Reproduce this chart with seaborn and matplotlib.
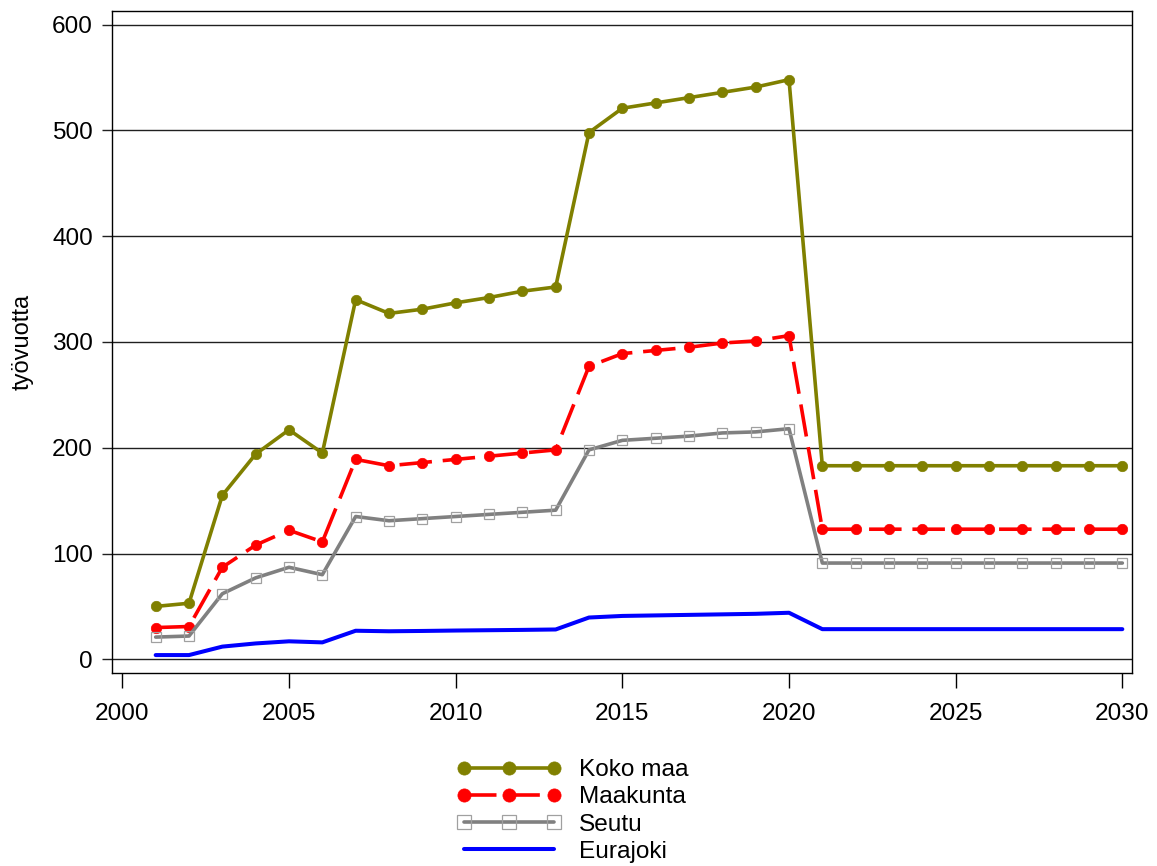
import matplotlib
matplotlib.use("Agg")
import matplotlib.pyplot as plt
import seaborn as sns
import pandas as pd

years = list(range(2001, 2031))

koko_maa = [50, 53, 155, 194, 217, 195, 340, 327, 331, 337, 342, 348, 352,
            498, 521, 526, 531, 536, 541, 548,
            183, 183, 183, 183, 183, 183, 183, 183, 183, 183]
maakunta = [30, 31, 87, 108, 122, 111, 189, 183, 186, 189, 192, 195, 198,
            277, 289, 292, 295, 299, 301, 306,
            123, 123, 123, 123, 123, 123, 123, 123, 123, 123]
seutu = [21, 22, 62, 77, 87, 80, 135, 131, 133, 135, 137, 139, 141,
         198, 207, 209, 211, 214, 215, 218,
         91, 91, 91, 91, 91, 91, 91, 91, 91, 91]
eurajoki = [4, 4, 12, 15, 17, 16, 27, 26.5, 26.8, 27.2, 27.5, 27.8, 28.2,
            39.5, 41, 41.5, 42, 42.5, 43, 44,
            28.5, 28.5, 28.5, 28.5, 28.5, 28.5, 28.5, 28.5, 28.5, 28.5]

labels = ["Koko maa", "Maakunta", "Seutu", "Eurajoki"]
x_ticks = [2000, 2005, 2010, 2015, 2020, 2025, 2030]
y_ticks = [0, 100, 200, 300, 400, 500, 600]
y_label = "työvuotta"

sns.set_style("white")
plt.rcParams["font.family"] = ["Liberation Sans", "DejaVu Sans"]
plt.rcParams["text.color"] = "black"
plt.rcParams["xtick.color"] = "black"
plt.rcParams["ytick.color"] = "black"
plt.rcParams["axes.labelcolor"] = "black"

FS = 17.6

fig = plt.figure(figsize=(11.57, 8.66), dpi=100)
ax = fig.add_axes([112 / 1157, 1 - 673 / 866, (1132 - 112) / 1157, (673 - 10.7) / 866])

df = pd.DataFrame({"year": years, labels[0]: koko_maa, labels[1]: maakunta,
                   labels[2]: seutu, labels[3]: eurajoki})

for y in y_ticks:
    ax.axhline(y, color="#202020", lw=1.0, zorder=0)

sns.lineplot(data=df, x="year", y=labels[0], ax=ax, color="#808000", lw=2.6,
             marker="o", markersize=7.5, markeredgecolor="#808000",
             markerfacecolor="#808000", markeredgewidth=0.5, label=labels[0])
sns.lineplot(data=df, x="year", y=labels[1], ax=ax, color="#ff0000", lw=2.6,
             linestyle=(0, (9.0, 3.0)), marker="o", markersize=7.5,
             markeredgecolor="#ff0000", markerfacecolor="#ff0000",
             markeredgewidth=0.5, label=labels[1])
sns.lineplot(data=df, x="year", y=labels[2], ax=ax, color="#808080", lw=2.6,
             marker="s", markersize=7.5, markeredgecolor="#a0a0a0",
             markerfacecolor="none", markeredgewidth=0.9, label=labels[2])
sns.lineplot(data=df, x="year", y=labels[3], ax=ax, color="#0000ff", lw=2.9,
             label=labels[3])

leg = ax.get_legend()
if leg is not None:
    leg.remove()

ax.set_xlim(1999.69, 2030.29)
ax.set_ylim(-12.95, 613.2)
ax.set_xticks(x_ticks)
ax.set_yticks(y_ticks)
ax.set_xticklabels([str(v) for v in x_ticks], fontsize=FS)
ax.set_yticklabels([str(v) for v in y_ticks], fontsize=FS)
ax.tick_params(axis="x", direction="out", length=10.8, width=1, color="black",
               pad=10.5, bottom=True)
ax.tick_params(axis="y", direction="out", length=7.2, width=1, color="#202020",
               pad=6.5, left=True)
ax.set_xlabel("")
ax.set_ylabel(y_label, fontsize=17)
ax.yaxis.set_label_coords(-0.077, 0.5)

for s in ax.spines.values():
    s.set_color("black")
    s.set_linewidth(1.0)

handles, lbls = ax.get_legend_handles_labels()
fig_leg = fig.legend(handles, lbls, loc="center left",
                     bbox_to_anchor=(457 / 1157, 1 - 811 / 866),
                     frameon=False, fontsize=FS, handlelength=4.25,
                     handletextpad=0.75, labelspacing=0.21, borderpad=0,
                     borderaxespad=0, numpoints=3)
for ln in fig_leg.get_lines():
    ln.set_markersize(9.5)

fig.savefig("out.png", dpi=100)
